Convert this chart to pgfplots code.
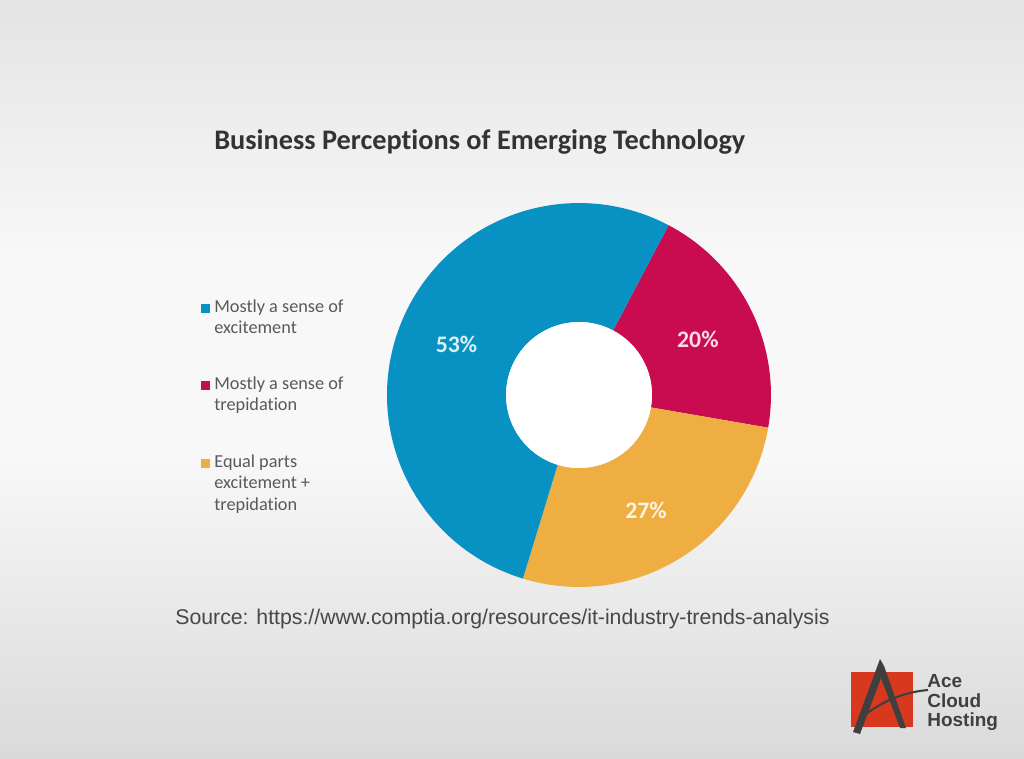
\documentclass[border=0pt]{standalone}
\usepackage{pgfplots}
\pgfplotsset{compat=1.18}
\usepackage{fontspec}
\setmainfont[Ligatures={NoCommon}]{Carlito}
\newfontfamily\arialfont{Liberation Sans}
\usetikzlibrary{calc}
\definecolor{cblue}{HTML}{0892C4}
\definecolor{cred}{HTML}{C90C50}
\definecolor{cyellow}{HTML}{EFAE42}
\definecolor{bgtop}{HTML}{E4E4E4}
\definecolor{bgbot}{HTML}{DADADA}
\definecolor{bgmid}{HTML}{F8F8F8}
\definecolor{logored}{HTML}{D8391E}
\definecolor{logogray}{HTML}{3F3F3F}
% data (percent)
\def\vExc{53}
\def\vTre{20}
\def\vEq{27}
\begin{document}
\begin{tikzpicture}
\begin{axis}[x=0.02cm, y=0.02cm, xmin=0, xmax=1024, ymin=0, ymax=758,
  hide axis, clip=false]
% background
\shade[top color=bgtop, bottom color=bgmid] (axis cs:0,758) rectangle (axis cs:1024,500);
\fill[bgmid] (axis cs:0,500) rectangle (axis cs:1024,300);
\shade[top color=bgmid, bottom color=bgbot] (axis cs:0,300) rectangle (axis cs:1024,0);
% donut
\pgfmathsetmacro{\aO}{62.2}
\pgfmathsetmacro{\aA}{\aO-\vTre*3.6}
\pgfmathsetmacro{\aB}{\aA-\vEq*3.6}
\pgfmathsetmacro{\aC}{\aB-\vExc*3.6}
\def\Ro{3.84cm}
\def\Ri{1.46cm}
\coordinate (C) at (axis cs:579,363);
\fill[cred] ($(C)+(\aO:\Ro)$) arc[start angle=\aO, end angle=\aA, radius=\Ro] -- ($(C)+(\aA:\Ri)$) arc[start angle=\aA, end angle=\aO, radius=\Ri] -- cycle;
\fill[cyellow] ($(C)+(\aA:\Ro)$) arc[start angle=\aA, end angle=\aB, radius=\Ro] -- ($(C)+(\aB:\Ri)$) arc[start angle=\aB, end angle=\aA, radius=\Ri] -- cycle;
\fill[cblue] ($(C)+(\aB:\Ro)$) arc[start angle=\aB, end angle=\aC, radius=\Ro] -- ($(C)+(\aC:\Ri)$) arc[start angle=\aC, end angle=\aB, radius=\Ri] -- cycle;
\fill[white] (C) circle[radius=\Ri];
% labels
\pgfmathsetmacro{\mA}{(\aO+\aA)/2}
\pgfmathsetmacro{\mB}{(\aA+\aB)/2}
\pgfmathsetmacro{\mC}{(\aB+\aC)/2}
\node[font=\fontsize{13.5}{16}\selectfont\bfseries, text=white!85!cred] at ($(C)+(\mA:2.65cm)+(0,-0.06cm)$) {\vTre\%};
\node[font=\fontsize{13.5}{16}\selectfont\bfseries, text=white!85!cyellow] at ($(C)+(\mB:2.65cm)+(-0.05cm,-0.05cm)$) {\vEq\%};
\node[font=\fontsize{13.5}{16}\selectfont\bfseries, text=white!85!cblue] at ($(C)+(\mC:2.65cm)$) {\vExc\%};
% title
\node[anchor=base west, font=\fontsize{16.1}{19}\selectfont\bfseries, text=black!80, inner sep=0pt] at (axis cs:214,608) {Business Perceptions of Emerging Technology};
% legend
\fill[cblue] (axis cs:201,445) rectangle (axis cs:210,454);
\node[anchor=north west, align=left, inner sep=0pt, font=\fontsize{10.4}{12.4}\selectfont, text=black!65] at (axis cs:214,459) {Mostly a sense of\\excitement};
\fill[cred] (axis cs:201,368) rectangle (axis cs:210,377);
\node[anchor=north west, align=left, inner sep=0pt, font=\fontsize{10.4}{12.4}\selectfont, text=black!65] at (axis cs:214,382) {Mostly a sense of\\trepidation};
\fill[cyellow] (axis cs:201,290) rectangle (axis cs:210,299);
\node[anchor=north west, align=left, inner sep=0pt, font=\fontsize{10.4}{12.4}\selectfont, text=black!65] at (axis cs:214,304) {Equal parts\\excitement +\\trepidation};
% source
\node[anchor=base west, inner sep=0pt, font=\arialfont\fontsize{12.1}{14}\selectfont, text=black!72] at (axis cs:175,134) {Source: https://www.comptia.org/resources/it-industry-trends-analysis};
% logo
\fill[logored] (axis cs:851,86) rectangle (axis cs:913,31);
\fill[logogray] (axis cs:880,99) -- (axis cs:884,92) -- (axis cs:906,30) -- (axis cs:900,30) -- (axis cs:881,80) -- (axis cs:860,24) -- (axis cs:853,26) -- cycle;
\draw[logogray, line width=1.2pt] (axis cs:866,44) .. controls (axis cs:885,58) and (axis cs:905,66) .. (axis cs:928,68);
\node[anchor=base west, inner sep=0pt, font=\arialfont\fontsize{10.8}{12}\selectfont\bfseries, text=logogray] at (axis cs:927,71) {Ace};
\node[anchor=base west, inner sep=0pt, font=\arialfont\fontsize{10.8}{12}\selectfont\bfseries, text=logogray] at (axis cs:927,51) {Cloud};
\node[anchor=base west, inner sep=0pt, font=\arialfont\fontsize{10.8}{12}\selectfont\bfseries, text=logogray] at (axis cs:927,32) {Hosting};
\end{axis}
\end{tikzpicture}
\end{document}
